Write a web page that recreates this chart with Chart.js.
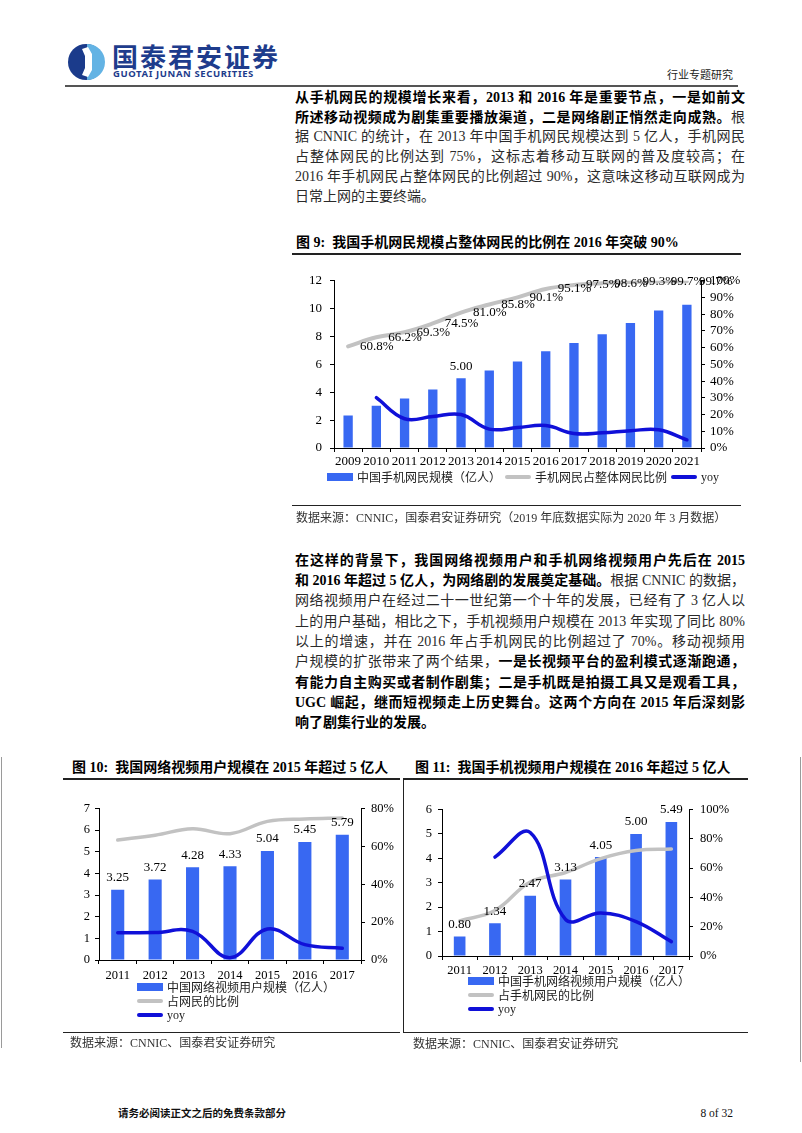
<!DOCTYPE html>
<html lang="zh-CN">
<head>
<meta charset="utf-8">
<title>行业专题研究 - 8 of 32</title>
<script src="https://cdn.jsdelivr.net/npm/chart.js@4.4.1/dist/chart.umd.min.js"></script>
<style>
  html, body { margin: 0; padding: 0; background: #fff; }
  body {
    width: 802px; height: 1133px; position: relative; overflow: hidden;
    font-family: "Liberation Serif", "Noto Sans CJK SC", serif; color: #1a1a1a;
  }
  .abs { position: absolute; }
  .ln {
    position: absolute; left: 295px; width: 450px; height: 20px; line-height: 20px;
    font-size: 14px; text-align: justify; text-align-last: justify; color: #2a2a2a;
  }
  .ln.last { text-align-last: left; }
  .ln b { font-weight: 700; color: #000; }
  .rule { position: absolute; background: #222; }
  .title { position: absolute; font-size: 14px; font-weight: 700; line-height: 18px; white-space: nowrap; color: #000; }
  .src { position: absolute; font-size: 12px; line-height: 16px; white-space: nowrap; color: #333; }
  .frame { position: absolute; background: #9a9a9a; width: 1px; }
  canvas { position: absolute; }
  .legend { position: absolute; font-size: 12px; color: #222; white-space: nowrap; }
  .legend .item { display: flex; align-items: center; height: 14px; }
  .legend.row { display: flex; }
  .legend .sw { display: inline-block; width: 26px; margin-right: 4px; }
</style>
</head>
<body>

<!-- header -->
<svg class="abs" style="left:66px;top:42px" width="40" height="40" viewBox="0 0 40 40">
  <circle cx="20" cy="20" r="18" fill="#1b3b8b"/>
  <path d="M21 2 A18 18 0 0 1 21 38 Z" fill="#63b3e4"/>
  <polygon points="16,7 22,5 26,12 26,28 22,35 16,33 19,26 19,14" fill="#fff"/>
</svg>
<div class="abs" style="left:112px;top:41px;font-family:'Noto Sans CJK SC';font-weight:700;font-size:26px;line-height:30px;letter-spacing:2px;color:#1e3c8c">国泰君安证券</div>
<div class="abs" style="left:113px;top:68px;font-family:'Noto Sans';font-weight:700;font-size:9.5px;line-height:12px;letter-spacing:0.6px;color:#1e3c8c">GUOTAI JUNAN SECURITIES</div>
<div class="abs" style="right:69px;top:66px;font-family:'Noto Sans CJK SC';font-size:11px;line-height:16px;color:#222">行业专题研究</div>
<div class="rule" style="left:65px;top:85px;width:673px;height:2px;background:#555"></div>

<!-- paragraph 1 -->
<div class="ln" style="top:88px"><b>从手机网民的规模增长来看，2013 和 2016 年是重要节点，一是如前文</b></div>
<div class="ln" style="top:108px"><b>所述移动视频成为剧集重要播放渠道，二是网络剧正悄然走向成熟。</b>根</div>
<div class="ln" style="top:127px">据 CNNIC 的统计，在 2013 年中国手机网民规模达到 5 亿人，手机网民</div>
<div class="ln" style="top:147px">占整体网民的比例达到 75%，这标志着移动互联网的普及度较高；在</div>
<div class="ln" style="top:167px">2016 年手机网民占整体网民的比例超过 90%，这意味这移动互联网成为</div>
<div class="ln last" style="top:187px">日常上网的主要终端。</div>

<!-- figure 9 -->
<div class="title" style="left:296px;top:234px">图 9:&nbsp;&nbsp;我国手机网民规模占整体网民的比例在 2016 年突破 90%</div>
<div class="rule" style="left:292px;top:253px;width:449px;height:1.5px"></div>
<canvas id="chart9" width="460" height="205" style="left:290px;top:265px"></canvas>
<div id="legend9" class="legend row" style="left:327px;top:470px"></div>
<div class="rule" style="left:292px;top:505px;width:449px;height:1px"></div>
<div class="src" style="left:296px;top:510px">数据来源：CNNIC，国泰君安证券研究（2019 年底数据实际为 2020 年 3 月数据）</div>

<!-- paragraph 2 -->
<div class="ln" style="top:551px"><b>在这样的背景下，我国网络视频用户和手机网络视频用户先后在 2015</b></div>
<div class="ln" style="top:571px"><b>和 2016 年超过 5 亿人，为网络剧的发展奠定基础。</b>根据 CNNIC 的数据，</div>
<div class="ln" style="top:591px">网络视频用户在经过二十一世纪第一个十年的发展，已经有了 3 亿人以</div>
<div class="ln" style="top:612px">上的用户基础，相比之下，手机视频用户规模在 2013 年实现了同比 80%</div>
<div class="ln" style="top:632px">以上的增速，并在 2016 年占手机网民的比例超过了 70%。移动视频用</div>
<div class="ln" style="top:652px">户规模的扩张带来了两个结果，<b>一是长视频平台的盈利模式逐渐跑通，</b></div>
<div class="ln" style="top:673px"><b>有能力自主购买或者制作剧集；二是手机既是拍摄工具又是观看工具，</b></div>
<div class="ln" style="top:693px"><b>UGC 崛起，继而短视频走上历史舞台。这两个方向在 2015 年后深刻影</b></div>
<div class="ln last" style="top:713px"><b>响了剧集行业的发展。</b></div>

<!-- frame lines -->
<div class="frame" style="left:1px;top:757px;height:291px"></div>
<div class="frame" style="left:800px;top:757px;height:305px"></div>
<div class="frame" style="left:403px;top:778px;height:254px;background:#222"></div>

<!-- figure 10 -->
<div class="title" style="left:72px;top:759px">图 10:&nbsp;&nbsp;我国网络视频用户规模在 2015 年超过 5 亿人</div>
<div class="rule" style="left:63px;top:778px;width:337px;height:1.5px"></div>
<canvas id="chart10" width="345" height="185" style="left:60px;top:795px"></canvas>
<div id="legend10" class="legend" style="left:137px;top:980px"></div>
<div class="rule" style="left:63px;top:1032px;width:337px;height:1px"></div>
<div class="src" style="left:70px;top:1035px">数据来源：CNNIC、国泰君安证券研究</div>

<!-- figure 11 -->
<div class="title" style="left:415px;top:759px">图 11:&nbsp;&nbsp;我国手机视频用户规模在 2016 年超过 5 亿人</div>
<div class="rule" style="left:403px;top:778px;width:345px;height:1.5px"></div>
<canvas id="chart11" width="340" height="180" style="left:400px;top:795px"></canvas>
<div id="legend11" class="legend" style="left:468px;top:974px"></div>
<div class="rule" style="left:403px;top:1032px;width:345px;height:1px"></div>
<div class="src" style="left:413px;top:1036px">数据来源：CNNIC、国泰君安证券研究</div>

<!-- footer -->
<div class="abs" style="left:118px;top:1105px;font-family:'Noto Sans CJK SC';font-weight:700;font-size:10.5px;line-height:16px;color:#111">请务必阅读正文之后的免费条款部分</div>
<div class="abs" style="right:69px;top:1105px;font-size:11.5px;line-height:16px;color:#111">8 of 32</div>

<script>
// figure 9: 手机网民规模
const years9 = ['2009', '2010', '2011', '2012', '2013', '2014', '2015', '2016', '2017', '2018', '2019', '2020', '2021'];
const mobileUsers9 = [2.33, 3.03, 3.56, 4.20, 5.00, 5.57, 6.20, 6.95, 7.53, 8.17, 8.97, 9.86, 10.29];
const mobileShare9 = [60.8, 66.2, 69.3, 74.5, 81.0, 85.8, 90.1, 95.1, 97.5, 98.6, 99.3, 99.7, 99.7];
const mobileYoy9 = [null, 30.1, 17.5, 18.8, 20.0, 11.3, 12.2, 13.4, 8.7, 9.1, 10.3, 10.9, 4.9];
const labelledYears9 = ['2013'];
const leftTicks9 = [0, 2, 4, 6, 8, 10, 12];
const rightTicks9 = [0, 10, 20, 30, 40, 50, 60, 70, 80, 90, 100];

// figure 10: 网络视频用户
const years10 = ['2011', '2012', '2013', '2014', '2015', '2016', '2017'];
const videoUsers10 = [3.25, 3.72, 4.28, 4.33, 5.04, 5.45, 5.79];
const videoShare10 = [63.4, 65.9, 69.3, 66.7, 73.2, 74.5, 75.0];
const videoYoy10 = [14.4, 14.5, 15.1, 1.2, 16.4, 8.1, 6.2];
const leftTicks10 = [0, 1, 2, 3, 4, 5, 6, 7];
const rightTicks10 = [0, 20, 40, 60, 80];

// figure 11: 手机视频用户
const years11 = ['2011', '2012', '2013', '2014', '2015', '2016', '2017'];
const mobileVideoUsers11 = [0.80, 1.34, 2.47, 3.13, 4.05, 5.00, 5.49];
const mobileVideoShare11 = [24.0, 31.0, 50.5, 57.0, 66.5, 72.0, 73.0];
const mobileVideoYoy11 = [null, 67.5, 84.3, 25.0, 29.4, 23.5, 9.8];
const leftTicks11 = [0, 1, 2, 3, 4, 5, 6];
const rightTicks11 = [0, 20, 40, 60, 80, 100];

const BAR_BLUE = '#3868f2';
const SHARE_GREY = '#c2c2c2';
const YOY_BLUE = '#1010d8';
const SERIF = "'Liberation Serif', 'Noto Sans CJK SC', serif";

Chart.defaults.font.family = SERIF;
Chart.defaults.color = '#000';

// data labels drawn from the element positions the library computed
function labelPlugin(sets) {
  return {
    id: 'valueLabels',
    afterDatasetsDraw(chart) {
      const ctx = chart.ctx;
      ctx.save();
      ctx.font = '13px ' + SERIF;
      ctx.fillStyle = '#000';
      sets.forEach(set => {
        const meta = chart.getDatasetMeta(set.dataset);
        const values = chart.data.datasets[set.dataset].data;
        meta.data.forEach((el, i) => {
          const v = values[i];
          if (v == null) return;
          if (set.only && !set.only.includes(chart.data.labels[i])) return;
          const text = set.format(v);
          if (set.place === 'right') {
            ctx.textAlign = 'left';
            ctx.textBaseline = 'middle';
            ctx.fillText(text, el.x + 12, el.y);
          } else {
            ctx.textAlign = 'center';
            ctx.textBaseline = 'middle';
            ctx.fillText(text, el.x, el.y - 12);
          }
        });
      });
      ctx.restore();
    }
  };
}

function buildChart(id, o) {
  const tickFont = { size: o.fontSize, family: SERIF };
  return new Chart(document.getElementById(id), {
    type: 'bar',
    data: {
      labels: o.labels,
      datasets: [{
        type: 'bar',
        label: o.names[0],
        data: o.bars,
        backgroundColor: BAR_BLUE,
        barPercentage: o.barPct,
        categoryPercentage: 1,
        yAxisID: 'y',
        order: 3
      }, {
        type: 'line',
        label: o.names[1],
        data: o.share,
        borderColor: SHARE_GREY,
        borderWidth: o.greyWidth,
        borderCapStyle: 'round',
        pointRadius: 0,
        tension: 0.4,
        yAxisID: 'y1',
        order: 2
      }, {
        type: 'line',
        label: o.names[2],
        data: o.yoy,
        borderColor: YOY_BLUE,
        borderWidth: 3.5,
        borderCapStyle: 'round',
        pointRadius: 0,
        tension: 0.4,
        yAxisID: 'y1',
        order: 1
      }]
    },
    options: {
      responsive: false,
      devicePixelRatio: 1,
      animation: false,
      layout: { padding: { top: o.top, left: 0, right: 0, bottom: 0 } },
      plugins: { legend: { display: false }, tooltip: { enabled: false } },
      scales: {
        x: {
          offset: true,
          grid: { display: true, offset: true, drawOnChartArea: false, tickLength: 4, color: '#000' },
          border: { color: '#000', width: 1 },
          ticks: { font: tickFont, color: '#000', padding: o.xPad, maxRotation: 0, autoSkip: false },
          afterFit: s => { s.height = o.xHeight; }
        },
        y: {
          position: 'left',
          min: o.leftTicks[0],
          max: o.leftTicks[o.leftTicks.length - 1],
          grid: { drawOnChartArea: false, tickLength: 4, color: '#000' },
          border: { color: '#000', width: 1 },
          ticks: { font: tickFont, color: '#000', padding: o.leftPad, autoSkip: false },
          afterBuildTicks: s => { s.ticks = o.leftTicks.map(v => ({ value: v })); },
          afterFit: s => { s.width = o.leftWidth; }
        },
        y1: {
          position: 'right',
          min: o.rightTicks[0],
          max: o.rightTicks[o.rightTicks.length - 1],
          grid: { drawOnChartArea: false, tickLength: 4, color: '#000' },
          border: { color: '#000', width: 1 },
          ticks: { font: tickFont, color: '#000', padding: o.rightPad, autoSkip: false, callback: v => v + '%' },
          afterBuildTicks: s => { s.ticks = o.rightTicks.map(v => ({ value: v })); },
          afterFit: s => { s.width = o.rightWidth; }
        }
      }
    },
    plugins: [labelPlugin(o.labelSets)]
  });
}

function buildLegend(id, chart) {
  const box = document.getElementById(id);
  chart.data.datasets.forEach(ds => {
    const item = document.createElement('div');
    item.className = 'item';
    const sw = document.createElement('span');
    sw.className = 'sw';
    if (ds.type === 'bar') {
      sw.style.height = '8px';
      sw.style.background = ds.backgroundColor;
    } else {
      sw.style.height = ds.borderWidth + 'px';
      sw.style.borderRadius = '2px';
      sw.style.background = ds.borderColor;
    }
    const txt = document.createElement('span');
    txt.textContent = ds.label;
    item.appendChild(sw);
    item.appendChild(txt);
    if (box.classList.contains('row')) item.style.marginRight = '4px';
    box.appendChild(item);
  });
}

const chart9 = buildChart('chart9', {
  labels: years9, bars: mobileUsers9, share: mobileShare9, yoy: mobileYoy9,
  names: ['中国手机网民规模（亿人）', '手机网民占整体网民比例', 'yoy'],
  leftTicks: leftTicks9, rightTicks: rightTicks9,
  barPct: 0.33, greyWidth: 4, fontSize: 13,
  top: 12, xHeight: 22, leftWidth: 44, rightWidth: 49,
  xPad: 2, leftPad: 8, rightPad: 5,
  labelSets: [
    { dataset: 0, place: 'top', only: labelledYears9, format: v => v.toFixed(2) },
    { dataset: 1, place: 'right', format: v => v.toFixed(1) + '%' }
  ]
});

const chart10 = buildChart('chart10', {
  labels: years10, bars: videoUsers10, share: videoShare10, yoy: videoYoy10,
  names: ['中国网络视频用户规模（亿人）', '占网民的比例', 'yoy'],
  leftTicks: leftTicks10, rightTicks: rightTicks10,
  barPct: 0.35, greyWidth: 3.5, fontSize: 12.5,
  top: 10, xHeight: 20, leftWidth: 39, rightWidth: 44,
  xPad: 4, leftPad: 5, rightPad: 6,
  labelSets: [{ dataset: 0, place: 'top', format: v => v.toFixed(2) }]
});

const chart11 = buildChart('chart11', {
  labels: years11, bars: mobileVideoUsers11, share: mobileVideoShare11, yoy: mobileVideoYoy11,
  names: ['中国手机网络视频用户规模（亿人）', '占手机网民的比例', 'yoy'],
  leftTicks: leftTicks11, rightTicks: rightTicks11,
  barPct: 0.33, greyWidth: 3.5, fontSize: 12.5,
  top: 10, xHeight: 19, leftWidth: 42, rightWidth: 51,
  xPad: 3, leftPad: 6, rightPad: 7,
  labelSets: [{ dataset: 0, place: 'top', format: v => v.toFixed(2) }]
});

buildLegend('legend9', chart9);
buildLegend('legend10', chart10);
buildLegend('legend11', chart11);
</script>
</body>
</html>
